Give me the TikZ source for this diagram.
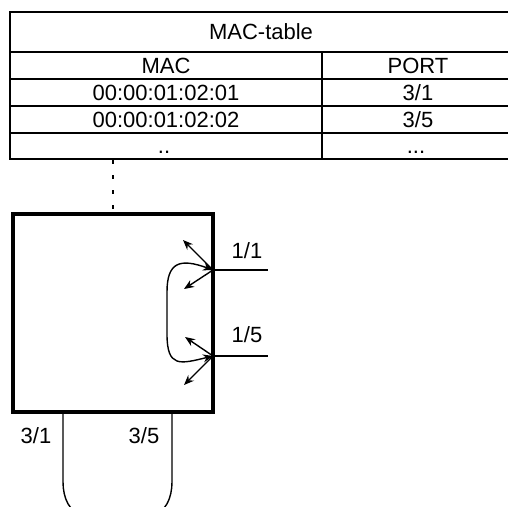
\documentclass[tikz,border=0pt]{standalone}
\usepackage{fontspec}
\setmainfont{Liberation Sans}
\usetikzlibrary{arrows.meta}
\begin{document}
\begin{tikzpicture}[x=1pt,y=-1pt,
  txt/.style={font=\fontsize{22}{26}\selectfont, inner sep=0pt, anchor=base},
  tbl/.style={line width=1.7pt},
  thinline/.style={line width=1.4pt},
  arr/.style={line width=1.4pt, -{Stealth[length=10pt,width=8pt]}},
  darr/.style={line width=1.4pt, {Stealth[length=10pt,width=8pt]}-{Stealth[length=10pt,width=8pt]}},
  dotline/.style={line width=2.8pt, dash pattern=on 4pt off 11pt},
  switchbox/.style={draw, line width=3.2pt, minimum width=200pt, minimum height=198pt, inner sep=0pt}]
\useasboundingbox (0,0) rectangle (508,506);
\clip (0,0) rectangle (508,506);
% table
\draw[tbl] (10,12) rectangle (516,159);
\draw[tbl] (10,52) -- (516,52);
\draw[tbl] (10,79) -- (516,79);
\draw[tbl] (10,106) -- (516,106);
\draw[tbl] (10,133) -- (516,133);
\draw[tbl] (322,52) -- (322,159);
\node[txt] (title) at (261,39) {MAC-table};
\node[txt] (hmac) at (166,73) {MAC};
\node[txt] (hport) at (418,73) {PORT};
\node[txt] (m1) at (166,100) {00:00:01:02:01};
\node[txt] (p1) at (418,100) {3/1};
\node[txt] (m2) at (166,127) {00:00:01:02:02};
\node[txt] (p2) at (418,127) {3/5};
\node[txt] (m3) at (164,153) {..};
\node[txt] (p3) at (416,153) {...};
% switch
\node[switchbox] (sw) at (113,313) {};
\coordinate (tb) at (113,160);
\draw[dotline] (tb) -- (sw.north);
% ports
\coordinate (p11) at (213,270);
\coordinate (e11) at (268,270);
\coordinate (p15) at (213,356);
\coordinate (e15) at (268,356);
\draw[thinline] (p11) -- (e11);
\draw[thinline] (p15) -- (e15);
\node[txt] (l11) at (247,258) {1/1};
\node[txt] (l15) at (247,342) {1/5};
% arrows
\coordinate (a1) at (183,240);
\coordinate (a2) at (184,289);
\coordinate (a3) at (185,337);
\coordinate (a4) at (184,385);
\draw[arr] (p11) -- (a1);
\draw[arr] (p11) -- (a2);
\draw[arr] (p15) -- (a3);
\draw[arr] (p15) -- (a4);
\draw[darr] (p11) .. controls (180,258) and (167,262) .. (167,292) -- (167,334) .. controls (167,368) and (180,364) .. (p15);
% bottom ports
\coordinate (p31) at (63,412);
\coordinate (p35) at (172,412);
\draw[thinline] (p31) -- (63,482) to[out=-90,in=180] (84,514) -- (151,514) to[out=0,in=-90] (172,482) -- (p35);
\node[txt] (l31) at (36,443) {3/1};
\node[txt] (l35) at (144,443) {3/5};
\end{tikzpicture}
\end{document}
